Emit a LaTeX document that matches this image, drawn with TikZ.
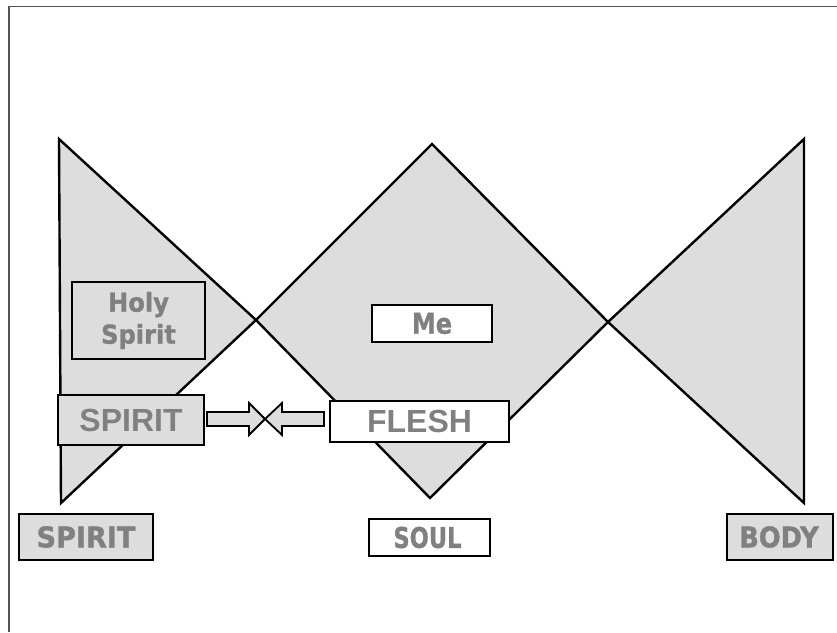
\documentclass[tikz,border=0pt]{standalone}
\usepackage{fontspec}
\usepackage{graphicx}
\newfontfamily\lsans{Liberation Sans}
\newfontfamily\tsans{DejaVu Sans Bold}[FakeBold=1.2]
\definecolor{shade}{HTML}{DDDDDD}
\definecolor{txtgray}{HTML}{808080}
\definecolor{framegray}{HTML}{555555}
\begin{document}
\begin{tikzpicture}[x=1pt,y=-1pt,
  region/.style={draw=black, line width=2.4pt, fill=shade, line join=miter},
  lbl/.style={draw=black, line width=2.4pt, inner sep=0pt, text=txtgray, align=center,
    font=\tsans\fontsize{28.5}{33}\selectfont},
  arl/.style={lbl, font=\lsans\bfseries\fontsize{32}{36}\selectfont},
  graybox/.style={fill=shade},
  whitebox/.style={fill=white},
  blockarrow/.style={draw=black, line width=1.8pt, fill=shade, line join=miter}]
\useasboundingbox (0,0) rectangle (837,632);
\draw[framegray, line width=1.2pt] (9,632) -- (9,6.5) -- (837,6.5);

% outline shapes
\coordinate (lt) at (59,139);
\coordinate (lb) at (61,503);
\coordinate (x1) at (256,320);
\coordinate (dt) at (432,144);
\coordinate (x2) at (608,322);
\coordinate (db) at (430,498);
\coordinate (rt) at (804,139);
\coordinate (rb) at (804,503);
\filldraw[region] (lt) -- (lb) -- (x1) -- cycle;
\filldraw[region] (x1) -- (dt) -- (x2) -- (db) -- cycle;
\filldraw[region] (x2) -- (rt) -- (rb) -- cycle;

% boxes
\node[lbl, graybox, minimum width=133pt, minimum height=77pt, font=\tsans\fontsize{26}{33}\selectfont] (holy) at (138.5,320.5)
  {\scalebox{0.93}[1]{Holy}\\[-1pt]\scalebox{0.93}[1]{Spirit}};
\node[lbl, whitebox, minimum width=120pt, minimum height=37pt] (me) at (432,323.5)
  {\scalebox{0.84}[1]{Me}};
\node[arl, graybox, minimum width=146pt, minimum height=50pt] (spirit) at (131,420) {SPIRIT};
\node[arl, whitebox, minimum width=179pt, minimum height=41pt] (flesh) at (419.5,421.5) {FLESH};

\node[lbl, graybox, minimum width=134pt, minimum height=46pt] (bspirit) at (86,537)
  {\scalebox{0.95}[1]{SPIRIT}};
\node[lbl, whitebox, minimum width=121pt, minimum height=37pt] (bsoul) at (429.5,537.5)
  {\hspace*{-4pt}\scalebox{0.79}[1]{SOUL}};
\node[lbl, graybox, minimum width=106pt, minimum height=46pt] (bbody) at (780,537)
  {\hspace*{-2pt}\scalebox{0.9}[1]{BODY}};

% facing block arrows
\coordinate (meet) at (265,419);
\begin{scope}[shift={(meet)}]
\filldraw[blockarrow] (-58,-7) -- (-16,-7) -- (-16,-16) -- (0,0) -- (-16,16) -- (-16,7) -- (-58,7) -- cycle;
\filldraw[blockarrow] (59,-7) -- (17,-7) -- (17,-16) -- (0,0) -- (17,16) -- (17,7) -- (59,7) -- cycle;
\end{scope}
\end{tikzpicture}
\end{document}
